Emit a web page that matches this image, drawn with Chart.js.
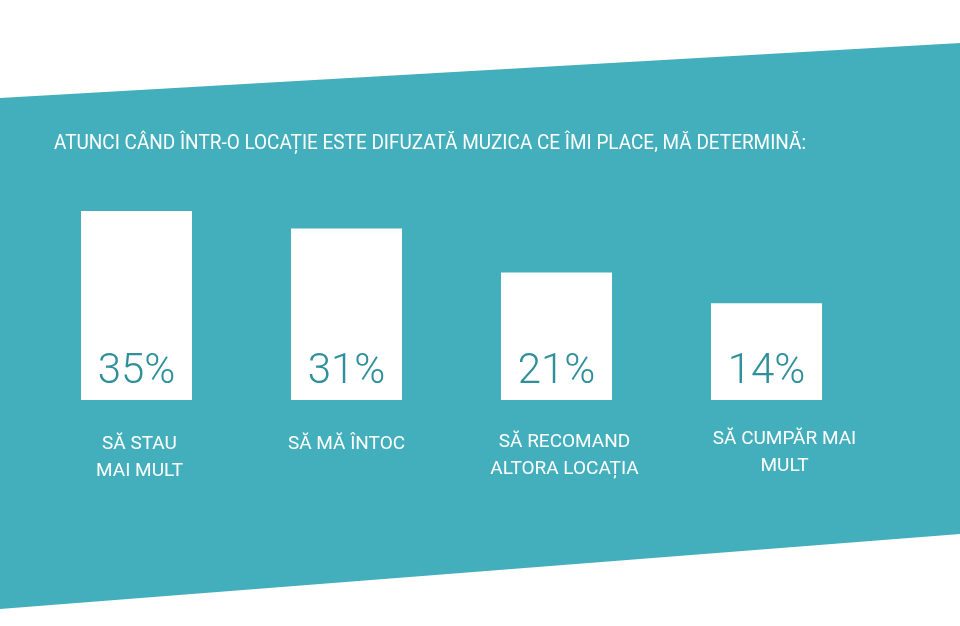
<!DOCTYPE html>
<html>
<head>
<meta charset="utf-8">
<script src="https://cdn.jsdelivr.net/npm/chart.js@4/dist/chart.umd.min.js"></script>
<style>
  html, body { margin: 0; padding: 0; background: #fff; }
  #wrap { width: 960px; height: 626px; }
</style>
</head>
<body>
<div id="wrap"><canvas id="music-chart" width="960" height="626"></canvas></div>
<script>
const title = "ATUNCI CÂND ÎNTR-O LOCAȚIE ESTE DIFUZATĂ MUZICA CE ÎMI PLACE, MĂ DETERMINĂ:";
const categories = [
  ["SĂ STAU", "MAI MULT"],
  ["SĂ MĂ ÎNTOC"],
  ["SĂ RECOMAND", "ALTORA LOCAȚIA"],
  ["SĂ CUMPĂR MAI", "MULT"],
];
const percentages = [35, 31, 21, 14];

const TEAL = "#43afbd";
const TEAL_DARK = "#2f8f9b";
const AXIS_BASE = -8;

// teal band + title behind the chart
const backdrop = {
  id: "backdrop",
  beforeDraw(chart) {
    const { ctx } = chart;
    ctx.save();
    ctx.fillStyle = "#fff";
    ctx.fillRect(0, 0, chart.width, chart.height);
    ctx.fillStyle = TEAL;
    ctx.beginPath();
    ctx.moveTo(0, 98);
    ctx.lineTo(960, 43);
    ctx.lineTo(960, 534);
    ctx.lineTo(0, 609);
    ctx.closePath();
    ctx.fill();

    ctx.fillStyle = "#fff";
    ctx.font = "20px Roboto";
    ctx.textBaseline = "alphabetic";
    ctx.textAlign = "left";
    ctx.fillText(title, 54, 149, 752);
    ctx.restore();
  },
};

// percent inside bars, category names below
const barText = {
  id: "barText",
  afterDatasetsDraw(chart, args, opts) {
    const { ctx } = chart;
    const meta = chart.getDatasetMeta(0);
    const yBase = chart.scales.y.getPixelForValue(AXIS_BASE);
    ctx.save();
    ctx.textAlign = "center";
    ctx.textBaseline = "alphabetic";
    meta.data.forEach((bar, i) => {
      ctx.fillStyle = TEAL_DARK;
      ctx.font = "300 42px Roboto";
      ctx.fillText(percentages[i] + "%", bar.x, yBase - 17);

      ctx.fillStyle = "#fff";
      ctx.font = "19px Roboto";
      const cx = bar.x + (opts.shiftX[i] || 0);
      const cy = yBase + 49 + (opts.shiftY[i] || 0);
      categories[i].forEach((line, j) => {
        ctx.fillText(line, cx, cy + j * 27);
      });
    });
    ctx.restore();
  },
};

new Chart(document.getElementById("music-chart"), {
  type: "bar",
  data: {
    labels: categories.map((c) => c.join(" ")),
    datasets: [
      {
        data: percentages,
        base: AXIS_BASE,
        backgroundColor: "#fff",
        borderWidth: 0,
        barPercentage: 0.5286,
        categoryPercentage: 1,
      },
    ],
  },
  options: {
    responsive: false,
    animation: false,
    events: [],
    layout: { padding: { left: 31.5, right: 88.5, top: 189, bottom: 226 } },
    plugins: {
      legend: { display: false },
      tooltip: { enabled: false },
      barText: { shiftX: [3, 0, 8, 18], shiftY: [0, 0, -2, -5] },
    },
    scales: {
      x: { display: false },
      y: { display: false, min: AXIS_BASE, max: 40 },
    },
  },
  plugins: [backdrop, barText],
});
</script>
</body>
</html>
